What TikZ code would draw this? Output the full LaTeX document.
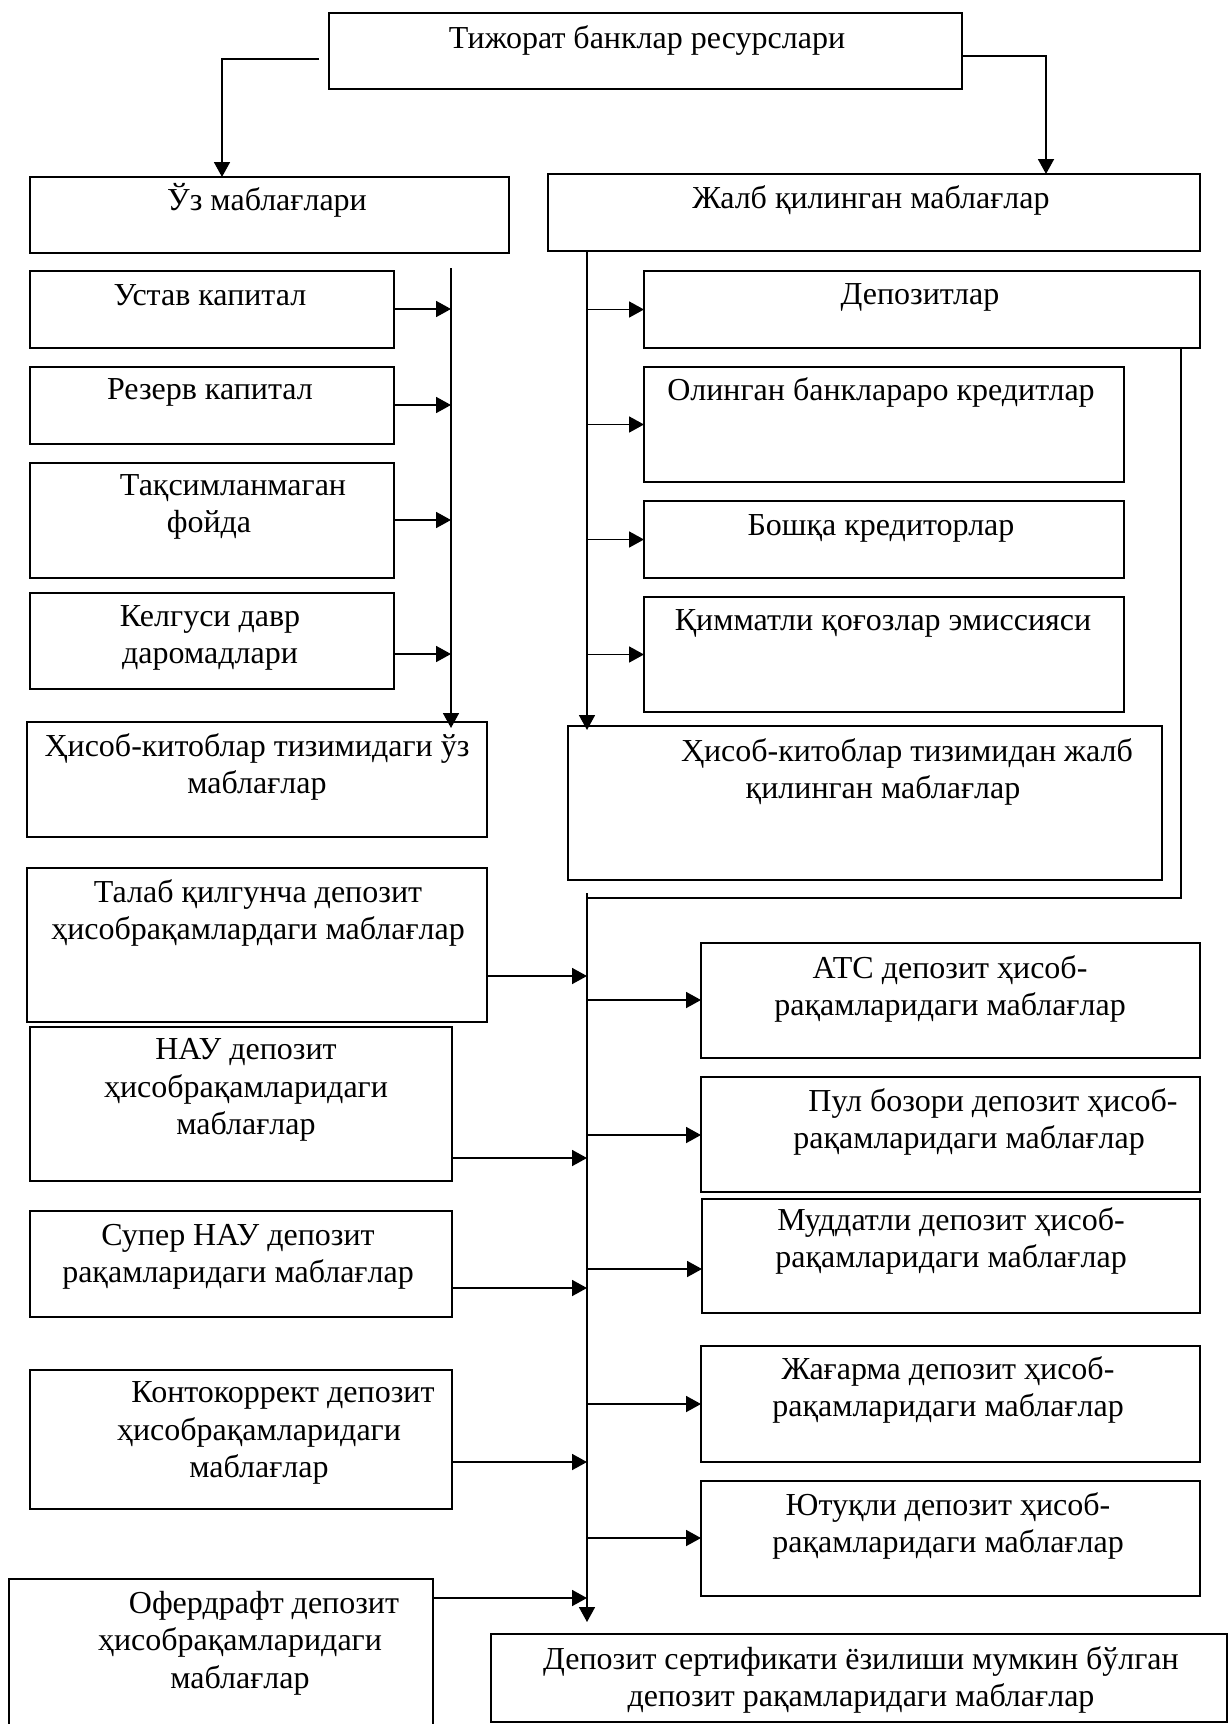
\documentclass[tikz,border=0pt]{standalone}
\usepackage{fontspec}
\setmainfont{Liberation Serif}
\usetikzlibrary{arrows.meta}
\newcommand\bx[5]{\node[box, minimum width={(#4-#2)*1pt}, minimum height={(#5-#3)*1pt}] (#1) at ({(#2+#4)/2},{(#3+#5)/2}) {};}
\begin{document}
\begin{tikzpicture}[x=1pt,y=-1pt,
  box/.style={draw, line width=1.7pt, inner sep=0pt, outer sep=0pt},
  txt/.style={inner sep=0pt, align=center, font=\fontsize{32}{37.5}\selectfont},
  conn/.style={line width=1.8pt},
  arr/.style={line width=1.8pt, -{Triangle[length=15pt,width=16pt]}}]
\useasboundingbox (0,0) rectangle (1229,1724);
% boxes
\bx{top}{329}{13}{962}{89}
\bx{uz}{30}{177}{509}{253}
\bx{jalb}{548}{174}{1200}{251}
\bx{ustav}{30}{271}{394}{348}
\bx{rezerv}{30}{367}{394}{444}
\bx{taqs}{30}{463}{394}{578}
\bx{kel}{30}{593}{394}{689}
\bx{hown}{27}{722}{487}{837}
\bx{dep}{644}{271}{1200}{348}
\bx{olin}{644}{367}{1124}{482}
\bx{boshqa}{644}{501}{1124}{578}
\bx{qimm}{644}{597}{1124}{712}
\bx{hjalb}{568}{726}{1162}{880}
\bx{talab}{27}{868}{487}{1022}
\bx{nau}{30}{1027}{452}{1181}
\bx{super}{30}{1211}{452}{1317}
\bx{konto}{30}{1370}{452}{1509}
\bx{oferd}{9}{1579}{433}{1732}
\bx{ats}{701}{943}{1200}{1058}
\bx{pul}{701}{1077}{1200}{1192}
\bx{mudd}{702}{1199}{1200}{1313}
\bx{jagarma}{701}{1346}{1200}{1462}
\bx{yutuq}{701}{1481}{1200}{1596}
\bx{sert}{491}{1634}{1227}{1722}
% texts
\node[txt] (t-top) at (647,40) {Тижорат банклар ресурслари};
\node[txt] (t-uz) at (267,200) {Ўз маблағлари};
\node[txt] (t-jalb) at (871,200) {Жалб қилинган маблағлар};
\node[txt] (t-ustav) at (210,295) {Устав капитал};
\node[txt] (t-rezerv) at (210,392) {Резерв капитал};
\node[txt] (t-taqs) at (209,507) {\hspace*{48pt}Тақсимланмаган\\фойда};
\node[txt] (t-kel) at (210,638) {Келгуси давр\\даромадлари};
\node[txt] (t-hown) at (257,767) {Ҳисоб-китоблар тизимидаги ўз\\маблағлар};
\node[txt] (t-dep) at (920,297) {Депозитлар};
\node[txt] (t-olin) at (881,392) {Олинган банклараро кредитлар};
\node[txt] (t-boshqa) at (881,528) {Бошқа кредиторлар};
\node[txt] (t-qimm) at (883,623) {Қимматли қоғозлар эмиссияси};
\node[txt] (t-hjalb) at (883,772) {\hspace*{48pt}Ҳисоб-китоблар тизимидан жалб\\қилинган маблағлар};
\node[txt] (t-talab) at (258,913) {Талаб қилгунча депозит\\ҳисобрақамлардаги маблағлар};
\node[txt] (t-nau) at (246,1090) {НАУ депозит\\ҳисобрақамларидаги\\маблағлар};
\node[txt] (t-super) at (238,1257) {Супер НАУ депозит\\рақамларидаги маблағлар};
\node[txt] (t-konto) at (259,1433) {\hspace*{48pt}Контокоррект депозит\\ҳисобрақамларидаги\\маблағлар};
\node[txt] (t-oferd) at (240,1643) {\hspace*{48pt}Офердрафт депозит\\ҳисобрақамларидаги\\маблағлар};
\node[txt] (t-ats) at (950,989) {АТС депозит ҳисоб-\\рақамларидаги маблағлар};
\node[txt] (t-pul) at (969,1122) {\hspace*{48pt}Пул бозори депозит ҳисоб-\\рақамларидаги маблағлар};
\node[txt] (t-mudd) at (951,1241) {Муддатли депозит ҳисоб-\\рақамларидаги маблағлар};
\node[txt] (t-jagarma) at (948,1390) {Жағарма депозит ҳисоб-\\рақамларидаги маблағлар};
\node[txt] (t-yutuq) at (948,1526) {Ютуқли депозит ҳисоб-\\рақамларидаги маблағлар};
\node[txt] (t-sert) at (861,1680) {Депозит сертификати ёзилиши мумкин бўлган\\депозит рақамларидаги маблағлар};
% top connectors
\coordinate (tl) at (319,59);
\coordinate (tlc) at (222,59);
\coordinate (trc) at (1046,56);
\draw[arr] (tl) -- (tlc) -- (tlc |- uz.north);
\draw[arr] (top.east |- trc) -- (trc) -- (trc |- jalb.north);
% left bus
\coordinate (lb1) at (451,268);
\coordinate (lb2) at (451,728);
\draw[arr] (lb1) -- (lb2);
\coordinate (l1) at (451,309);
\coordinate (l2) at (451,405);
\coordinate (l3) at (451,520);
\coordinate (l4) at (451,654);
\draw[arr] (ustav.east |- l1) -- (l1);
\draw[arr] (rezerv.east |- l2) -- (l2);
\draw[arr] (taqs.east |- l3) -- (l3);
\draw[arr] (kel.east |- l4) -- (l4);
% right upper bus
\coordinate (rb) at (587,730);
\draw[arr] (jalb.south -| rb) -- (rb);
\draw[arr] (dep.west -| rb) -- (dep.west);
\draw[arr] (olin.west -| rb) -- (olin.west);
\draw[arr] (boshqa.west -| rb) -- (boshqa.west);
\draw[arr] (qimm.west -| rb) -- (qimm.west);
% return line
\coordinate (c1) at (1181,898);
\coordinate (c2) at (587,898);
\draw[conn] (dep.south -| c1) -- (c1) -- (c2);
% lower bus
\coordinate (bb1) at (587,893);
\coordinate (bb2) at (587,1622);
\draw[arr] (bb1) -- (bb2);
\coordinate (b1) at (587,976);
\coordinate (b2) at (587,1158);
\coordinate (b3) at (587,1288);
\coordinate (b4) at (587,1462);
\coordinate (b5) at (587,1598);
\draw[arr] (talab.east |- b1) -- (b1);
\draw[arr] (nau.east |- b2) -- (b2);
\draw[arr] (super.east |- b3) -- (b3);
\draw[arr] (konto.east |- b4) -- (b4);
\draw[arr] (oferd.east |- b5) -- (b5);
\coordinate (r1) at (587,1000);
\coordinate (r2) at (587,1135);
\coordinate (r3) at (587,1269);
\coordinate (r4) at (587,1404);
\coordinate (r5) at (587,1538);
\draw[arr] (r1) -- (ats.west |- r1);
\draw[arr] (r2) -- (pul.west |- r2);
\draw[arr] (r3) -- (mudd.west |- r3);
\draw[arr] (r4) -- (jagarma.west |- r4);
\draw[arr] (r5) -- (yutuq.west |- r5);
\end{tikzpicture}
\end{document}
